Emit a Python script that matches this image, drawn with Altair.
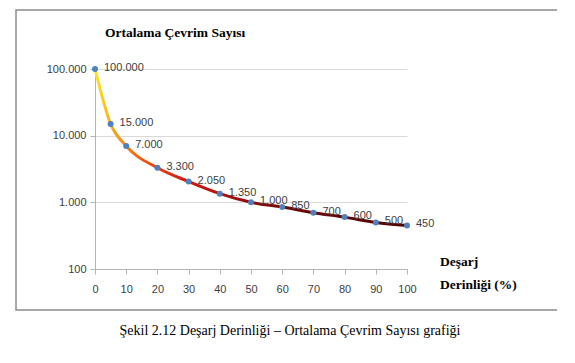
import altair as alt
import pandas as pd

depth = [0, 5, 10, 20, 30, 40, 50, 60, 70, 80, 90, 100]
cycles = [100000, 15000, 7000, 3300, 2050, 1350, 1000, 850, 700, 600, 500, 450]
point_labels = ["100.000", "15.000", "7.000", "3.300", "2.050", "1.350", "1.000",
                "850", "700", "600", "500", "450"]
y_ticks = [100, 1000, 10000, 100000]
x_ticks = [0, 10, 20, 30, 40, 50, 60, 70, 80, 90, 100]

title_text = "Ortalama Çevrim Sayısı"
xtitle_lines = ["Deşarj", "Derinliği (%)"]
caption_text = "Şekil 2.12 Deşarj Derinliği – Ortalama Çevrim Sayısı grafiği"

df = pd.DataFrame({"depth": depth, "cycles": cycles, "label": point_labels})

W, H = 312, 200

xs = alt.Scale(domain=[0, 100], nice=False)
ys = alt.Scale(type="log", domain=[100, 100000], nice=False)

x_axis = alt.Axis(values=x_ticks, title=None, grid=False, tickSize=5,
                  labelOverlap=False, labelFlush=False, labelPadding=9,
                  labelFont="Liberation Sans", labelFontSize=11,
                  labelColor="#404040", domainColor="#b4b4b4", tickColor="#b4b4b4")
y_axis = alt.Axis(values=y_ticks, title=None, grid=True, gridColor="#d9d9d9",
                  labelOverlap=False, labelFlush=False, tickSize=5, labelPadding=4,
                  labelFont="Liberation Sans", labelFontSize=11, labelColor="#404040",
                  domainColor="#b4b4b4", tickColor="#b4b4b4",
                  labelExpr="replace(format(datum.value, ',d'), regexp(',', 'g'), '.')")

X = alt.X("depth:Q", scale=xs, axis=x_axis)
Y = alt.Y("cycles:Q", scale=ys, axis=y_axis)

base = alt.Chart(df)

line = base.mark_line(
    interpolate="monotone", strokeWidth=3,
    color=alt.Gradient(
        gradient="linear", x1=0, x2=1, y1=0, y2=0,
        stops=[
            alt.GradientStop(offset=0.0, color="#ffe81a"),
            alt.GradientStop(offset=0.06, color="#f5a623"),
            alt.GradientStop(offset=0.15, color="#ee5a12"),
            alt.GradientStop(offset=0.28, color="#d81b10"),
            alt.GradientStop(offset=0.45, color="#a00c0c"),
            alt.GradientStop(offset=0.6, color="#700808"),
            alt.GradientStop(offset=1.0, color="#4f0404"),
        ],
    ),
).encode(x=X, y=Y)

points = base.mark_circle(size=36, color="#4f81bd", opacity=1).encode(x=X, y=Y)

labels = base.mark_text(align="left", baseline="middle", dx=9, dy=-1,
                        font="Liberation Sans", fontSize=11, color="#404040").encode(
    x=X, y=Y, text="label:N")

frame = alt.Chart(pd.DataFrame({"a": [0]})).mark_rect(
    fillOpacity=0, stroke="#8c8c8c", strokeWidth=1.5).encode(
    x=alt.value(-79), x2=alt.value(463), y=alt.value(-59), y2=alt.value(241))

title = alt.Chart(pd.DataFrame({"t": [title_text]})).mark_text(
    align="left", baseline="middle", font="Liberation Serif", fontSize=13.5,
    fontWeight="bold", color="#000000").encode(
    x=alt.value(10), y=alt.value(-36), text="t:N")

xtitle = alt.Chart(pd.DataFrame({"t": xtitle_lines, "yy": [193, 216]})).mark_text(
    align="left", baseline="middle", font="Liberation Serif", fontSize=13.5,
    fontWeight="bold", color="#000000").encode(
    x=alt.value(345), y=alt.Y("yy:Q", scale=None), text="t:N")

caption = alt.Chart(pd.DataFrame({"t": [caption_text]})).mark_text(
    align="center", baseline="middle", font="Liberation Serif", fontSize=14,
    color="#000000").encode(
    x=alt.value(195), y=alt.value(262), text="t:N")

chart = alt.layer(line, frame, points, labels, title, xtitle, caption).properties(
    width=W, height=H,
    autosize=alt.AutoSizeParams(type="none"),
    padding={"left": 87, "top": 61, "right": 150, "bottom": 78},
    background="white",
).configure_view(stroke=None)

chart.save("out.html", embed_options={"renderer": "svg", "actions": False})
